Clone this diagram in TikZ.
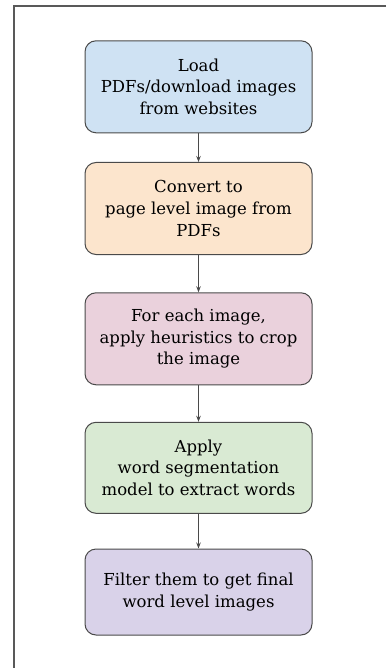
\documentclass[tikz,border=0pt]{standalone}
\usepackage{fontspec}
\setmainfont{DejaVu Serif}
\usetikzlibrary{arrows.meta}
\definecolor{cblue}{HTML}{CFE2F3}
\definecolor{corange}{HTML}{FCE5CD}
\definecolor{cpink}{HTML}{EAD1DC}
\definecolor{cgreen}{HTML}{D9EAD3}
\definecolor{cpurple}{HTML}{D9D2E9}
\definecolor{edge}{HTML}{4A4A4A}
\tikzset{
  stepbox/.style={draw=edge, line width=1pt, rounded corners=11pt, minimum width=227pt, inner sep=0pt, align=center, font=\fontsize{16.5}{21.7}\selectfont, text=black},
  flow/.style={draw=edge, line width=0.9pt, -{Stealth[length=6pt,width=4.5pt]}},
  frameline/.style={draw=black!65, line width=1.4pt}
}
\begin{document}
\begin{tikzpicture}[x=1pt,y=1pt]
\useasboundingbox (0,0) rectangle (386,-668);
\coordinate (ftl) at (14,-6);
\coordinate (ftr) at (386,-6);
\coordinate (fbl) at (14,-668);
\draw[frameline] (ftr) -- (ftl) -- (fbl);
\node[stepbox, fill=cblue, minimum height=92pt] (s1) at (198.5,-86.8) {Load\\PDFs/download images\\from websites};
\node[stepbox, fill=corange, minimum height=92pt] (s2) at (198.5,-208.5) {Convert to\\page level image from\\PDFs};
\node[stepbox, fill=cpink, minimum height=92pt] (s3) at (198.5,-338.8) {For each image,\\apply heuristics to crop\\the image};
\node[stepbox, fill=cgreen, minimum height=91pt] (s4) at (198.5,-467.8) {Apply\\word segmentation\\model to extract words};
\node[stepbox, fill=cpurple, minimum height=86pt] (s5) at (198.5,-592) {Filter them to get final\\word level images};
\draw[flow] (s1) -- (s2);
\draw[flow] (s2) -- (s3);
\draw[flow] (s3) -- (s4);
\draw[flow] (s4) -- (s5);
\end{tikzpicture}
\end{document}
